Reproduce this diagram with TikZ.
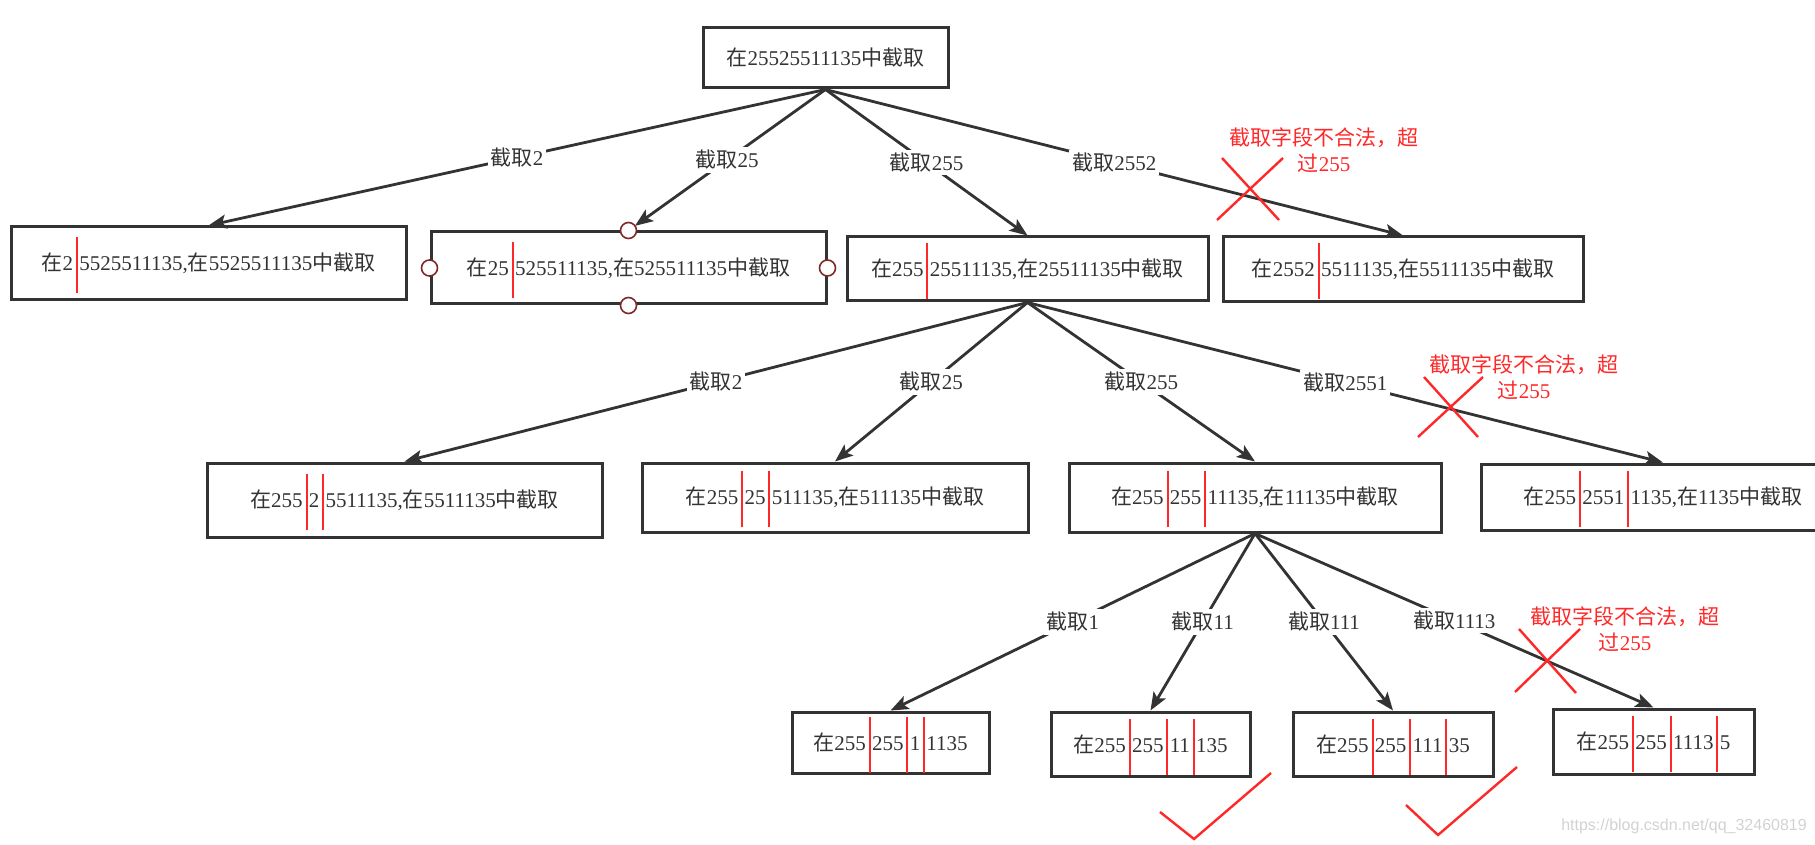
\documentclass[tikz,border=0pt]{standalone}
\usepackage{fontspec}
\setmainfont{Liberation Serif}
\newfontfamily\cjk{Noto Sans CJK SC}
\newfontfamily\wmfont{Liberation Sans}
\usepackage{xcolor}
\usepackage{tikz}
\usetikzlibrary{arrows.meta}
\definecolor{linecol}{RGB}{51,51,51}
\definecolor{cutred}{RGB}{255,40,40}
\definecolor{handlecol}{RGB}{128,40,40}
\newcommand{\cn}[1]{{\cjk #1}}
\newcommand{\cut}{\hspace{1.4pt}\smash{\textcolor{cutred}{\rule[-11.25pt]{1pt}{28pt}}}\hspace{0.7pt}}

\begin{document}
\begin{tikzpicture}[x=0.5pt,y=-0.5pt,
  every node/.style={font=\fontsize{10.5}{13}\selectfont,text=linecol},
  box/.style={draw=linecol,line width=1.5pt,inner sep=0pt},
  edge/.style={draw=linecol,line width=1.4pt,-{Stealth[length=9pt,width=7pt,inset=2pt]}},
  lab/.style={midway,fill=white,inner sep=1.5pt},
  warn/.style={text=cutred,align=center},
  redline/.style={draw=cutred,line width=1.2pt},
  handle/.style={draw=handlecol,fill=white,line width=0.8pt}]
\useasboundingbox (0,0) rectangle (1815,845);
\clip (0,0) rectangle (1815,845);
%\draw[help lines] (0,0) grid[step=100] (1815,845);
% root
\node[box,minimum width=122.5pt,minimum height=30pt] (root) at (825.5,58) {\cn{在}25525511135\cn{中截取}};
% first cut
\node[box,minimum width=197.5pt,minimum height=36.5pt] (a2) at (208.5,263.5) {\cn{在}2\cut 5525511135,\cn{在}5525511135\cn{中截取}};
\node[box,minimum width=197.5pt,minimum height=36pt] (a25) at (628.5,268) {\cn{在}25\cut 525511135,\cn{在}525511135\cn{中截取}};
\node[box,minimum width=180.5pt,minimum height=32pt] (a255) at (1027.5,269) {\cn{在}255\cut 25511135,\cn{在}25511135\cn{中截取}};
\node[box,minimum width=180pt,minimum height=32.5pt] (a2552) at (1403,269.5) {\cn{在}2552\cut 5511135,\cn{在}5511135\cn{中截取}};
% second cut
\node[box,minimum width=197.5pt,minimum height=37pt] (b2) at (404.5,500) {\cn{在}255\cut 2\cut 5511135,\cn{在}5511135\cn{中截取}};
\node[box,minimum width=193pt,minimum height=34.5pt] (b25) at (835,497.5) {\cn{在}255\cut 25\cut 511135,\cn{在}511135\cn{中截取}};
\node[box,minimum width=186pt,minimum height=34.5pt] (b255) at (1255,497.5) {\cn{在}255\cut 255\cut 11135,\cn{在}11135\cn{中截取}};
\node[box,minimum width=182pt,minimum height=33pt] (b2551) at (1663,497) {\cn{在}255\cut 2551\cut 1135,\cn{在}1135\cn{中截取}};
% third cut
\node[box,minimum width=98.5pt,minimum height=30.5pt] (c1) at (890.5,742.5) {\cn{在}255\cut 255\cut 1\cut 1135};
\node[box,minimum width=99.5pt,minimum height=32pt] (c11) at (1150.5,744) {\cn{在}255\cut 255\cut 11\cut 135};
\node[box,minimum width=100pt,minimum height=32pt] (c111) at (1393,744) {\cn{在}255\cut 255\cut 111\cut 35};
\node[box,minimum width=100.5pt,minimum height=32.5pt] (c1113) at (1653.5,741.5) {\cn{在}255\cut 255\cut 1113\cut 5};

\draw[edge] (root.south) -- node[lab] {\cn{截取}2} (a2.north);
\draw[edge,shorten >=4pt] (root.south) -- node[lab] {\cn{截取}25} (a25.north);
\draw[edge] (root.south) -- node[lab] {\cn{截取}255} (a255.north);
\draw[edge] (root.south) -- node[lab] {\cn{截取}2552} (a2552.north);

\draw[edge] (a255.south) -- node[lab] {\cn{截取}2} (b2.north);
\draw[edge] (a255.south) -- node[lab] {\cn{截取}25} (b25.north);
\draw[edge] (a255.south) -- node[lab] {\cn{截取}255} (b255.north);
\draw[edge] (a255.south) -- node[lab] {\cn{截取}2551} (b2551.north);

\draw[edge] (b255.south) -- node[lab] {\cn{截取}1} (c1.north);
\draw[edge] (b255.south) -- node[lab] {\cn{截取}11} (c11.north);
\draw[edge] (b255.south) -- node[lab] {\cn{截取}111} (c111.north);
\draw[edge] (b255.south) -- node[lab] {\cn{截取}1113} (c1113.north);

% handles on the selected box
\foreach \side in {north,south,east,west}
  \draw[handle] (a25.\side) circle[radius=4pt];

% not allowed
\node[warn] (warn1) at (1324,150) {\cn{截取字段不合法，超}\\\cn{过}255};
\draw[redline] (1217,220) -- (1283,158) (1222,158) -- (1279,220);
\node[warn] (warn2) at (1524,377.5) {\cn{截取字段不合法，超}\\\cn{过}255};
\draw[redline] (1418,437) -- (1483,377) (1424,377) -- (1478,437);
\node[warn] (warn3) at (1625,629) {\cn{截取字段不合法，超}\\\cn{过}255};
\draw[redline] (1515,692) -- (1580,629) (1519,629) -- (1576,693);

% ok
\draw[redline] (1160,812) -- (1194,839) -- (1271,773);
\draw[redline] (1406,805) -- (1438,835) -- (1517,767);

\node[text=gray!35,font=\wmfont\fontsize{8}{9}\selectfont] (wm) at (1684,826) {https://blog.csdn.net/qq\_32460819};
\end{tikzpicture}
\end{document}
